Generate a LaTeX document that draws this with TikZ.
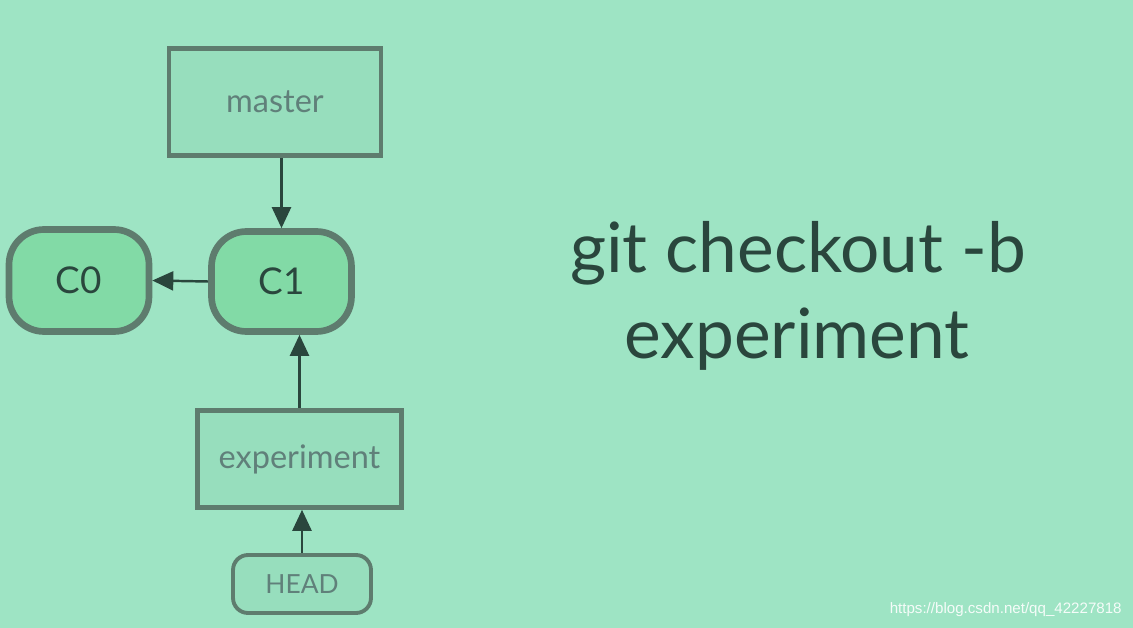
\documentclass[tikz,border=0pt]{standalone}
\usepackage{fontspec}
\setmainfont{Lato}
\setsansfont{Liberation Sans}
\usetikzlibrary{arrows.meta,calc}
\definecolor{gitbg}{HTML}{9EE4C4}
\definecolor{gitbox}{HTML}{97DEBD}
\definecolor{gitcommit}{HTML}{82DAA6}
\definecolor{gitline}{HTML}{5E7C6E}
\definecolor{gitdark}{HTML}{2A463D}
\definecolor{gitlabel}{HTML}{60807A}

\begin{document}
\begin{tikzpicture}[x=0.02cm,y=-0.02cm,
    refbox/.style={draw=gitline,fill=gitbox,line width=2.6pt,inner sep=0pt,
      text=gitlabel,font=\fontsize{18.5}{22}\selectfont},
    commit/.style={draw=gitline,fill=gitcommit,line width=3.8pt,rounded corners=0.7cm,
      inner sep=0pt,minimum width=2.8cm,minimum height=2cm,text=gitdark,
      font=\fontsize{21}{24}\selectfont},
    ptr/.style={draw=gitdark,line width=1.4pt,-{Triangle[length=0.42cm,width=0.38cm]}}]
  % page
  \fill[gitbg] (0,0) rectangle (1133,628);
  \useasboundingbox (0,0) rectangle (1133,628);
  % commits
  \node[commit] (c1) at (281.5,281.5) {C1};
  \node[commit,minimum height=2.04cm] (c0) at (79,280.5) {C0};
  % branches
  \node[refbox,minimum width=4.24cm,minimum height=2.14cm] (master) at (275,102) {master};
  \node[refbox,minimum width=4.08cm,minimum height=1.94cm] (experiment) at (299.5,459) {experiment};
  % HEAD pointer
  \node[refbox,line width=2.2pt,rounded corners=0.3cm,minimum width=2.76cm,minimum height=1.16cm,
    font=\fontsize{15}{18}\selectfont] (head) at (302,584) {HEAD};
  % arrows
  \draw[ptr] (c1.north |- master.south) -- (c1.north);
  \draw[ptr] (c1.west) -- (c0.east);
  \draw[ptr] (experiment.north) -- (experiment.north |- c1.south);
  \draw[ptr] (head.north) -- (head.north |- experiment.south);
  % command
  \node[anchor=base,text=gitdark,font=\fontsize{39.5}{46}\selectfont] (cmd) at (798,273) {git checkout -b};
  \node[anchor=base,text=gitdark,font=\fontsize{39.5}{46}\selectfont] (cmdarg) at (797,358) {experiment};
  % watermark
  \node[anchor=base east,text=white!90!gitbg,font=\sffamily\fontsize{8.6}{10}\selectfont,inner sep=0pt]
    (mark) at (1122,613) {https://blog.csdn.net/qq\_42227818};
\end{tikzpicture}
\end{document}
